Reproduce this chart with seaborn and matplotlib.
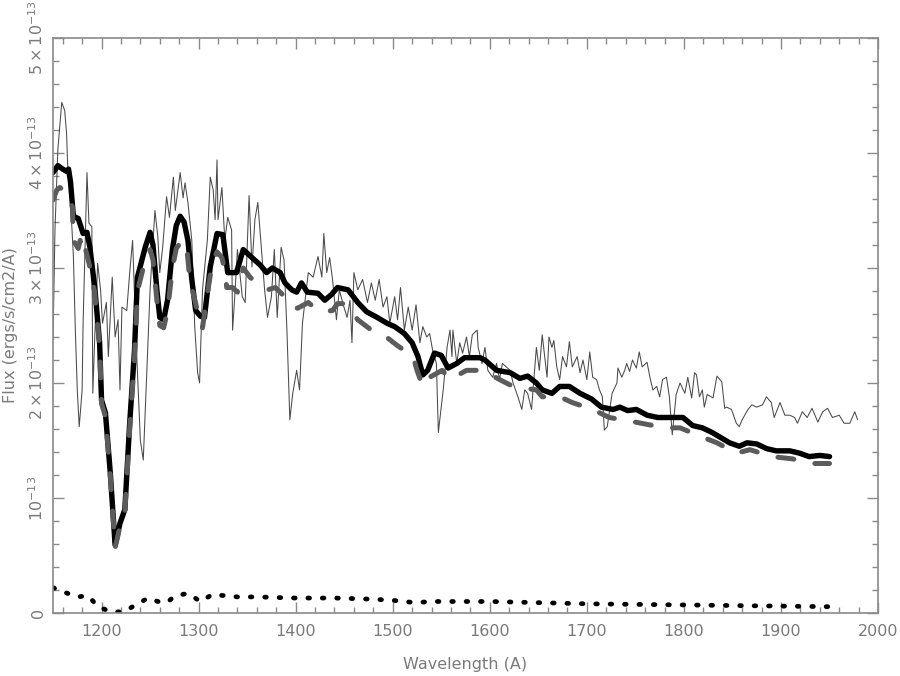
import matplotlib
matplotlib.use('Agg')
import matplotlib.pyplot as plt
from matplotlib.ticker import FixedLocator, MultipleLocator
import seaborn as sns

# fluxes are in units of 1e-13 ergs/s/cm2/A
SCALE = 1e-13

obs_wave = [1150, 1152, 1155, 1159, 1162, 1164, 1165, 1168, 1171, 1173, 1175, 1177, 1180, 1181,
            1185, 1187, 1190, 1191, 1193, 1196, 1199, 1201, 1205, 1207, 1211, 1214, 1217, 1219,
            1221, 1226, 1229, 1232, 1236, 1240, 1243, 1247, 1250, 1255, 1258, 1260, 1263, 1267,
            1270, 1274, 1276, 1281, 1284, 1286, 1289, 1293, 1296, 1299, 1301, 1304, 1309, 1312,
            1315, 1317, 1319, 1320, 1324, 1327, 1330, 1334, 1335, 1337, 1340, 1345, 1348, 1352,
            1355, 1358, 1361, 1364, 1368, 1371, 1375, 1378, 1381, 1385, 1388, 1391, 1394, 1397,
            1401, 1404, 1407, 1413, 1418, 1423, 1427, 1429, 1432, 1435, 1438, 1442, 1445, 1449,
            1453, 1456, 1458, 1460, 1464, 1469, 1474, 1478, 1482, 1486, 1490, 1494, 1497, 1502,
            1505, 1508, 1512, 1516, 1520, 1524, 1528, 1531, 1535, 1538, 1541, 1545, 1547, 1552,
            1556, 1559, 1561, 1562, 1566, 1569, 1572, 1576, 1579, 1582, 1587, 1588, 1592, 1595,
            1598, 1603, 1607, 1610, 1613, 1621, 1624, 1629, 1633, 1636, 1639, 1643, 1646, 1648,
            1651, 1654, 1659, 1661, 1664, 1666, 1669, 1672, 1675, 1679, 1682, 1685, 1690, 1693,
            1696, 1700, 1703, 1706, 1710, 1713, 1716, 1718, 1721, 1726, 1731, 1732, 1736, 1739,
            1741, 1744, 1747, 1751, 1754, 1757, 1762, 1765, 1768, 1772, 1775, 1778, 1782, 1785,
            1788, 1792, 1796, 1801, 1804, 1808, 1811, 1813, 1816, 1819, 1821, 1824, 1830, 1834,
            1839, 1842, 1844, 1849, 1854, 1857, 1860, 1866, 1870, 1875, 1881, 1885, 1890, 1893,
            1899, 1904, 1909, 1914, 1917, 1922, 1927, 1932, 1938, 1943, 1948, 1953, 1960, 1965,
            1971, 1976, 1979]
obs_flux = [2.37, 3.33, 4.03, 4.44, 4.37, 4.17, 3.91, 3.59, 3.10, 2.46, 1.94, 1.62, 1.94, 2.52,
            3.83, 3.39, 3.36, 1.91, 2.40, 3.04, 2.81, 2.52, 2.70, 2.23, 2.92, 2.40, 2.55, 1.94,
            2.66, 2.63, 2.96, 3.24, 2.29, 1.50, 1.33, 2.17, 2.81, 3.50, 3.27, 2.96, 3.18, 3.62,
            3.44, 3.79, 3.50, 3.83, 3.61, 3.74, 3.57, 3.24, 2.49, 2.09, 2.00, 2.81, 3.24, 3.79,
            3.68, 3.42, 3.94, 3.42, 3.70, 3.24, 3.44, 3.33, 2.46, 2.72, 3.16, 2.75, 2.70, 3.63,
            3.01, 3.42, 3.57, 3.24, 2.81, 2.57, 2.75, 3.16, 2.57, 3.18, 3.07, 2.46, 1.68, 1.91,
            2.11, 1.94, 2.52, 2.96, 2.92, 3.10, 2.92, 3.30, 2.96, 3.09, 2.90, 2.55, 2.81, 2.68,
            2.57, 2.72, 2.35, 2.96, 2.81, 2.90, 2.70, 2.87, 2.72, 2.90, 2.66, 2.75, 2.52, 2.75,
            2.55, 2.83, 2.46, 2.66, 2.46, 2.68, 2.35, 2.49, 2.40, 2.43, 2.29, 2.17, 1.57, 1.94,
            2.31, 2.46, 2.23, 2.46, 2.17, 2.35, 2.26, 2.40, 2.23, 2.42, 2.46, 2.31, 2.17, 2.31,
            2.11, 2.05, 2.17, 2.03, 2.17, 2.11, 2.00, 1.88, 1.77, 1.94, 1.91, 1.77, 2.09, 2.31,
            2.11, 2.42, 2.05, 2.40, 2.31, 2.37, 2.14, 2.03, 2.23, 2.14, 2.36, 2.14, 2.23, 2.09,
            2.20, 2.03, 2.27, 2.05, 2.03, 1.94, 1.88, 1.59, 1.62, 1.91, 2.00, 2.13, 2.05, 2.11,
            2.17, 2.10, 2.20, 2.13, 2.27, 2.14, 2.18, 2.05, 1.94, 1.97, 1.88, 2.03, 2.05, 1.88,
            1.55, 1.90, 2.00, 1.91, 2.05, 1.87, 2.09, 2.07, 1.88, 1.94, 1.79, 1.90, 1.87, 2.06,
            2.01, 1.78, 1.79, 1.77, 1.65, 1.62, 1.68, 1.77, 1.81, 1.79, 1.81, 1.88, 1.83, 1.70,
            1.83, 1.72, 1.72, 1.70, 1.65, 1.75, 1.70, 1.78, 1.66, 1.75, 1.78, 1.70, 1.72, 1.65,
            1.65, 1.75, 1.68]

model_wave = [1150, 1155, 1160, 1164, 1166, 1168, 1171, 1176, 1181, 1185, 1188, 1193, 1198, 1200,
              1204, 1209, 1214, 1219, 1224, 1229, 1234, 1237, 1245, 1250, 1253, 1257, 1260, 1264,
              1268, 1273, 1277, 1281, 1285, 1289, 1293, 1297, 1302, 1306, 1312, 1319, 1325, 1330,
              1339, 1346, 1355, 1363, 1370, 1376, 1384, 1389, 1396, 1401, 1406, 1412, 1423, 1430,
              1437, 1443, 1454, 1464, 1473, 1484, 1494, 1502, 1512, 1520, 1526, 1531, 1536, 1543,
              1550, 1557, 1566, 1574, 1590, 1595, 1607, 1621, 1631, 1639, 1648, 1654, 1664, 1672,
              1682, 1693, 1705, 1715, 1727, 1734, 1742, 1751, 1762, 1773, 1782, 1792, 1799, 1809,
              1819, 1829, 1837, 1847, 1857, 1865, 1875, 1885, 1895, 1909, 1919, 1929, 1940, 1950]
model_flux = [3.83, 3.89, 3.86, 3.84, 3.86, 3.75, 3.45, 3.43, 3.30, 3.31, 3.18, 2.83, 2.35, 1.85,
              1.74, 1.22, 0.59, 0.78, 0.90, 1.65, 2.29, 2.92, 3.18, 3.31, 3.20, 2.81, 2.57, 2.55,
              2.72, 3.16, 3.37, 3.45, 3.40, 3.24, 2.90, 2.63, 2.58, 2.57, 3.01, 3.30, 3.29, 2.96,
              2.96, 3.16, 3.09, 3.03, 2.96, 3.00, 2.96, 2.87, 2.81, 2.79, 2.87, 2.79, 2.78, 2.72,
              2.77, 2.83, 2.81, 2.70, 2.62, 2.57, 2.52, 2.49, 2.43, 2.35, 2.23, 2.07, 2.11, 2.26,
              2.24, 2.13, 2.17, 2.22, 2.22, 2.20, 2.11, 2.09, 2.04, 2.06, 2.00, 1.94, 1.91, 1.97,
              1.97, 1.91, 1.86, 1.79, 1.77, 1.79, 1.76, 1.77, 1.72, 1.70, 1.70, 1.70, 1.70, 1.63,
              1.61, 1.57, 1.53, 1.48, 1.45, 1.48, 1.47, 1.43, 1.41, 1.41, 1.39, 1.36, 1.37, 1.36]

model2_wave = [1150, 1154, 1157, 1164, 1170, 1171, 1176, 1178, 1181, 1183, 1188, 1193, 1198, 1200,
               1204, 1209, 1214, 1219, 1224, 1229, 1234, 1237, 1245, 1250, 1253, 1257, 1260, 1264,
               1268, 1273, 1277, 1283, 1288, 1291, 1301, 1304, 1310, 1314, 1319, 1324, 1327, 1329,
               1335, 1340, 1346, 1353, 1358, 1371, 1379, 1384, 1392, 1397, 1402, 1413, 1420, 1427,
               1438, 1443, 1451, 1464, 1478, 1495, 1504, 1521, 1525, 1531, 1538, 1551, 1559, 1576,
               1593, 1610, 1624, 1648, 1654, 1672, 1685, 1706, 1723, 1744, 1762, 1782, 1796, 1819,
               1834, 1854, 1868, 1891, 1912, 1932, 1950]
model2_flux = [3.59, 3.68, 3.70, 3.66, 3.53, 3.24, 3.17, 3.24, 3.13, 3.18, 3.01, 2.78, 2.32, 1.82,
               1.71, 1.19, 0.57, 0.75, 0.87, 1.60, 2.22, 2.80, 3.07, 3.16, 3.07, 2.72, 2.50, 2.48,
               2.63, 3.00, 3.17, 3.24, 3.16, 2.90, 2.55, 2.48, 2.83, 3.04, 3.14, 3.09, 2.98, 2.83,
               2.83, 2.79, 3.00, 2.92, 2.88, 2.81, 2.83, 2.79, 2.72, 2.66, 2.65, 2.70, 2.65, 2.62,
               2.63, 2.69, 2.69, 2.55, 2.46, 2.39, 2.33, 2.23, 2.11, 1.97, 2.05, 2.11, 2.03, 2.11,
               2.11, 2.03, 1.97, 1.94, 1.88, 1.88, 1.83, 1.77, 1.70, 1.67, 1.64, 1.61, 1.61, 1.53,
               1.48, 1.39, 1.42, 1.36, 1.34, 1.30, 1.30]

err_wave = [1150, 1162, 1175, 1186, 1196, 1209, 1223, 1235, 1248, 1258, 1267, 1276, 1289, 1302,
            1314, 1328, 1340, 1360, 1400, 1440, 1480, 1500, 1523, 1540, 1600, 1650, 1700, 1750,
            1800, 1850, 1900, 1950]
err_flux = [0.22, 0.18, 0.14, 0.15, 0.06, 0.01, 0.01, 0.07, 0.13, 0.10, 0.09, 0.15, 0.17, 0.10,
            0.16, 0.15, 0.14, 0.14, 0.13, 0.13, 0.12, 0.11, 0.09, 0.10, 0.10, 0.09, 0.08, 0.075,
            0.07, 0.065, 0.06, 0.055]

ytick_vals = [0, 1, 2, 3, 4, 5]
ytick_labels = ['0', r'$10^{-13}$', r'$2\times10^{-13}$', r'$3\times10^{-13}$',
                r'$4\times10^{-13}$', r'$5\times10^{-13}$']
xtick_vals = [1200, 1300, 1400, 1500, 1600, 1700, 1800, 1900, 2000]

sns.set_style('ticks')
plt.rcParams['font.family'] = ['DejaVu Sans']
plt.rcParams['mathtext.fontset'] = 'dejavusans'

axis_grey = '#8a8a8a'
text_grey = '#7a7a7a'

fig = plt.figure(figsize=(9, 6.76), dpi=100)
ax = fig.add_axes([0.0589, 0.0932, 0.9167, 0.8506])

def sc(vals):
    return [v * SCALE for v in vals]

sns.lineplot(x=obs_wave, y=sc(obs_flux), ax=ax, color='#4a4a4a', linewidth=0.75,
             estimator=None, sort=False)
sns.lineplot(x=model_wave, y=sc(model_flux), ax=ax, color='black', linewidth=3.9,
             estimator=None, sort=False)
sns.lineplot(x=model2_wave, y=sc(model2_flux), ax=ax, color='#5c5c5c', linewidth=3.6,
             estimator=None, sort=False)
ax.lines[-1].set_linestyle((0, (3.2, 4.3)))
ax.lines[-1].set_dash_capstyle('round')
sns.lineplot(x=err_wave, y=sc(err_flux), ax=ax, color='black', linewidth=3.4,
             estimator=None, sort=False)
ax.lines[-1].set_linestyle((0, (0.35, 2.7)))
ax.lines[-1].set_dash_capstyle('round')

ax.set_xlim(1150, 2000)
ax.set_ylim(0, 5 * SCALE)

ax.xaxis.set_major_locator(FixedLocator(xtick_vals))
ax.xaxis.set_minor_locator(MultipleLocator(20))
ax.yaxis.set_major_locator(FixedLocator(sc(ytick_vals)))
ax.yaxis.set_minor_locator(MultipleLocator(0.2 * SCALE))
ax.set_yticklabels(ytick_labels, rotation=90, va='center')

ax.tick_params(which='both', direction='in', top=True, right=True, color=axis_grey,
               labelcolor=text_grey, labelsize=11.5, width=1)
ax.tick_params(which='major', length=8)
ax.tick_params(which='minor', length=4.5)
ax.tick_params(axis='x', pad=8)
ax.tick_params(axis='y', pad=5)

for s in ax.spines.values():
    s.set_color(axis_grey)
    s.set_linewidth(1.2)

ax.set_xlabel('Wavelength (A)', color=text_grey, fontsize=11.5)
ax.set_ylabel('Flux (ergs/s/cm2/A)', color=text_grey, fontsize=11.5)
ax.xaxis.set_label_coords(0.5, -0.077)
ax.yaxis.set_label_coords(-0.042, 0.5)

fig.savefig('out.png', dpi=100)
